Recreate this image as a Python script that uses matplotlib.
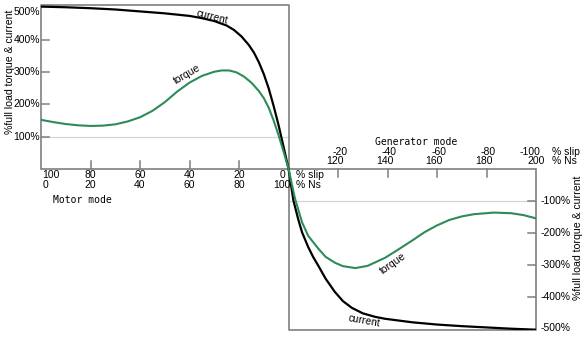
import matplotlib
matplotlib.use("Agg")
import matplotlib.pyplot as plt

plt.rcParams['font.family'] = ['Liberation Sans', 'DejaVu Sans']

# motor side (slip 100 .. 0 %)
motor_slip_cur = [100, 90, 80, 70, 60, 50, 40, 35, 30, 25, 22, 19, 16, 14, 12, 10, 8, 6, 4, 2, 0]
motor_current = [505, 503, 500, 496, 490, 484, 476, 469, 460, 446, 432, 412, 385, 362, 332, 295, 250, 195, 135, 68, 0]

motor_slip_tq = [100, 95, 90, 85, 80, 75, 70, 65, 60, 55, 50, 45, 40, 35, 30, 27, 24, 21, 18, 15, 12, 10, 8, 6, 4, 2, 0]
motor_torque = [152, 145, 139, 135, 133, 134, 138, 147, 160, 180, 207, 240, 268, 289, 302, 306, 306, 300, 287, 268, 242, 220, 190, 150, 104, 53, 0]

# generator side (slip 0 .. -100 %)
gen_slip_cur = [0, -2, -4, -5.5, -8, -10, -12, -15, -18.7, -22, -25.6, -30, -35, -39, -50, -60, -70, -80, -90, -100]
gen_current = [0, -100, -160, -199, -245, -276, -302, -343, -384, -413, -434, -451, -462, -468, -479, -486, -491, -495, -499, -502]

gen_slip_tq = [0, -2.6, -5.5, -8, -12, -15, -18.7, -22, -27, -32, -39, -44, -50, -55, -60, -65, -70, -75, -83, -90, -95, -100]
gen_torque = [0, -93, -168, -210, -249, -275, -293, -304, -310, -303, -278, -254, -224, -198, -177, -160, -149, -142, -137, -139, -145, -155]

motor_ticks = [100, 80, 60, 40, 20, 0]
motor_ns = [0, 20, 40, 60, 80, 100]
gen_ticks = [-20, -40, -60, -80, -100]
gen_ns = [120, 140, 160, 180, 200]
pos_levels = [500, 400, 300, 200, 100]
neg_levels = [-100, -200, -300, -400, -500]

frame = '#7f7f7f'
grid = '#d4d4d4'
green = '#2e8b57'
fs = 7.5

fig = plt.figure(figsize=(5.88, 3.38), dpi=100)
ax = fig.add_axes([41 / 588, 8 / 338, 495 / 588, 325 / 338])
ax.set_xlim(100, -100)
ax.set_ylim(-503, 510)
ax.axis('off')

# grid lines at +/-100 %
ax.plot([100, 0], [100, 100], color=grid, lw=0.9)
ax.plot([0, -100], [-100, -100], color=grid, lw=0.9)

# panel frames
ax.plot([100, 100, 0, 0, -100, -100], [0, 510, 510, -503, -503, 0], color=frame, lw=1.2, clip_on=False)
ax.plot([100, -100], [0, 0], color=frame, lw=1.2)

# tick marks
for v in pos_levels[1:]:
    ax.plot([100, 96.8], [v, v], color=frame, lw=1.1)
for v in neg_levels[:-1]:
    ax.plot([-100, -96.8], [v, v], color=frame, lw=1.1)
for s in motor_ticks[1:-1]:
    ax.plot([s, s], [0, 25], color=frame, lw=1.1)
for s in gen_ticks[:-1]:
    ax.plot([s, s], [0, -25], color=frame, lw=1.1)

# curves
ax.plot(motor_slip_cur, motor_current, color='black', lw=1.6)
ax.plot(gen_slip_cur, gen_current, color='black', lw=1.6)
ax.plot(motor_slip_tq, motor_torque, color=green, lw=1.5)
ax.plot(gen_slip_tq, gen_torque, color=green, lw=1.5)

ax.text(30.9, 472, 'current', rotation=-14, ha='center', va='center', fontsize=fs)
ax.text(41, 295, 'torque', rotation=30, ha='center', va='center', fontsize=fs)
ax.text(-42.2, -297, 'torque', rotation=35, ha='center', va='center', fontsize=fs)
ax.text(-30.7, -475, 'current', rotation=-10, ha='center', va='center', fontsize=fs)

# y labels
for v in pos_levels:
    ax.text(100.3, 488 if v == 500 else v, f'{v}%', ha='right', va='center', fontsize=fs)
for v in neg_levels:
    ax.text(-102, -497 if v == -500 else v, f'{v}%', ha='left', va='center', fontsize=fs)
ax.text(112.5, 301, '%full load torque & current', rotation=90, ha='center', va='center', fontsize=7.6)
ax.text(-117, -216, '%full load torque & current', rotation=90, ha='center', va='center', fontsize=7.6)

# motor side x labels
for i, (s, n) in enumerate(zip(motor_ticks, motor_ns)):
    if i == 0:
        ax.text(99.5, -20, str(s), ha='left', va='center', fontsize=fs)
        ax.text(99.5, -51, str(n), ha='left', va='center', fontsize=fs)
    elif s == 0:
        ax.text(2.6, -20, str(s), ha='center', va='center', fontsize=fs)
        ax.text(2.6, -51, str(n), ha='center', va='center', fontsize=fs)
    else:
        ax.text(s, -20, str(s), ha='center', va='center', fontsize=fs)
        ax.text(s, -51, str(n), ha='center', va='center', fontsize=fs)
ax.text(-3, -20, '% slip', ha='left', va='center', fontsize=fs)
ax.text(-3, -51, '% Ns', ha='left', va='center', fontsize=fs)
ax.text(83.4, -98, 'Motor mode', ha='center', va='center', fontsize=7, family='DejaVu Sans Mono')

# generator side x labels
for s, n in zip(gen_ticks, gen_ns):
    if s == -100:
        ax.text(-97.6, 52, str(s), ha='center', va='center', fontsize=fs)
        ax.text(-100, 24, str(n), ha='center', va='center', fontsize=fs)
    else:
        ax.text(s - 0.8, 52, str(s), ha='center', va='center', fontsize=fs)
        ax.text(s + 1.2, 24, str(n), ha='center', va='center', fontsize=fs)
ax.text(-106.5, 52, '% slip', ha='left', va='center', fontsize=fs)
ax.text(-106.5, 24, '% Ns', ha='left', va='center', fontsize=fs)
ax.text(-51.5, 83, 'Generator mode', ha='center', va='center', fontsize=7, family='DejaVu Sans Mono')

fig.savefig('out.png', dpi=100)
